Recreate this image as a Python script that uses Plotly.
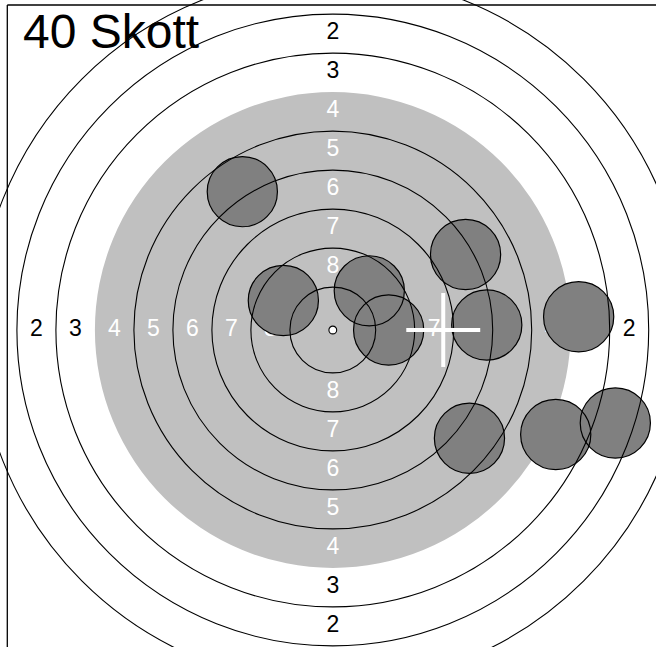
import plotly.graph_objects as go

# ---------------- data (mm, target coordinates, centre = 0,0) ----------------
TITLE = "40 Skott"
SHOT_X = [-5.80, -3.17, 2.34, 3.58, 8.51, 9.87, 15.76, 8.76, 14.29, 18.11]
SHOT_Y = [8.87, 1.89, 2.51, 0.00, 4.84, 0.32, 0.85, -6.94, -6.70, -5.96]
MPI_X = 7.08          # mean point of impact (white cross)
MPI_Y = 0.00
PELLET_RADIUS = 2.25

RING_SCORES = [1, 2, 3, 4, 5, 6, 7, 8, 9, 10]
RING_RADII = [22.75, 20.25, 17.75, 15.25, 12.75, 10.25, 7.75, 5.25, 2.75, 0.25]
BLACK_RING_SCORE = 4   # aiming mark (drawn grey) = 4 ring

LABEL_SCORES = [2, 3, 4, 5, 6, 7, 8]
LABEL_RADII = [19.0, 16.5, 14.0, 11.5, 9.0, 6.5, 4.0]

# ---------------- styling ----------------
W, H = 656, 647
PX_PER_MM = 15.6
CX_PX, CY_PX = 332.8, 330.0
XR = [-CX_PX / PX_PER_MM, (W - CX_PX) / PX_PER_MM]
YR = [-(H - CY_PX) / PX_PER_MM, CY_PX / PX_PER_MM]
FONT = "Liberation Sans, Arial, Helvetica, sans-serif"
GREY_MARK = "#c0c0c0"
SHOT_FILL = "#808080"
CROSS_HALF = 2.37

fig = go.Figure()
shapes = []

# aiming mark (grey disc)
r_black = RING_RADII[RING_SCORES.index(BLACK_RING_SCORE)]
shapes.append(dict(type="circle", xref="x", yref="y", layer="below",
                   x0=-r_black, x1=r_black, y0=-r_black, y1=r_black,
                   fillcolor=GREY_MARK, line=dict(width=0)))

# ring labels (traces sit between 'below' and 'above' shapes)
lx, ly, lt, lc = [], [], [], []
for s, m in zip(LABEL_SCORES, LABEL_RADII):
    col = "white" if m < r_black else "black"
    for (dx, dy) in [(0, 1), (0, -1), (-1, 0), (1, 0)]:
        lx.append(dx * m)
        ly.append(dy * m)
        lt.append(str(s))
        lc.append(col)
fig.add_trace(go.Scatter(x=lx, y=ly, text=lt, mode="text",
                         textposition="middle center",
                         textfont=dict(family=FONT, size=23, color=lc),
                         hoverinfo="skip", showlegend=False))

# shots: fills then outlines
for x, y in zip(SHOT_X, SHOT_Y):
    shapes.append(dict(type="circle", xref="x", yref="y", layer="above",
                       x0=x - PELLET_RADIUS, x1=x + PELLET_RADIUS,
                       y0=y - PELLET_RADIUS, y1=y + PELLET_RADIUS,
                       fillcolor=SHOT_FILL, line=dict(width=0)))
for x, y in zip(SHOT_X, SHOT_Y):
    shapes.append(dict(type="circle", xref="x", yref="y", layer="above",
                       x0=x - PELLET_RADIUS, x1=x + PELLET_RADIUS,
                       y0=y - PELLET_RADIUS, y1=y + PELLET_RADIUS,
                       fillcolor="rgba(0,0,0,0)", line=dict(color="black", width=1.2)))

# ring lines
for s, r in zip(RING_SCORES, RING_RADII):
    if s == BLACK_RING_SCORE:
        continue
    fill = "white" if s == 10 else "rgba(0,0,0,0)"
    shapes.append(dict(type="circle", xref="x", yref="y", layer="above",
                       x0=-r, x1=r, y0=-r, y1=r,
                       fillcolor=fill, line=dict(color="black", width=1.1)))

# mean point of impact cross
shapes.append(dict(type="line", xref="x", yref="y", layer="above",
                   x0=MPI_X - CROSS_HALF, x1=MPI_X + CROSS_HALF, y0=MPI_Y, y1=MPI_Y,
                   line=dict(color="white", width=4)))
shapes.append(dict(type="line", xref="x", yref="y", layer="above",
                   x0=MPI_X, x1=MPI_X, y0=MPI_Y - CROSS_HALF, y1=MPI_Y + CROSS_HALF,
                   line=dict(color="white", width=4)))

# frame (top and left edges)
shapes.append(dict(type="line", xref="paper", yref="paper", layer="above",
                   x0=7.3 / W, x1=1, y0=1 - 5 / H, y1=1 - 5 / H,
                   line=dict(color="black", width=1.3)))
shapes.append(dict(type="line", xref="paper", yref="paper", layer="above",
                   x0=7.3 / W, x1=7.3 / W, y0=0, y1=1 - 5 / H,
                   line=dict(color="black", width=1.3)))

fig.update_layout(
    width=W, height=H, autosize=False,
    margin=dict(l=0, r=0, t=0, b=0, pad=0),
    paper_bgcolor="white", plot_bgcolor="white",
    xaxis=dict(range=XR, visible=False, showgrid=False, zeroline=False, fixedrange=True),
    yaxis=dict(range=YR, visible=False, showgrid=False, zeroline=False, fixedrange=True),
    shapes=shapes,
    showlegend=False,
    annotations=[dict(text=TITLE, xref="paper", yref="paper",
                      x=21 / W, y=1 - 3 / H, xanchor="left", yanchor="top",
                      showarrow=False, font=dict(family=FONT, size=48, color="black"))],
)

fig.write_html("out.html", config={"displayModeBar": False},
               post_script="document.body.style.margin='0';document.body.style.overflow='hidden';")
